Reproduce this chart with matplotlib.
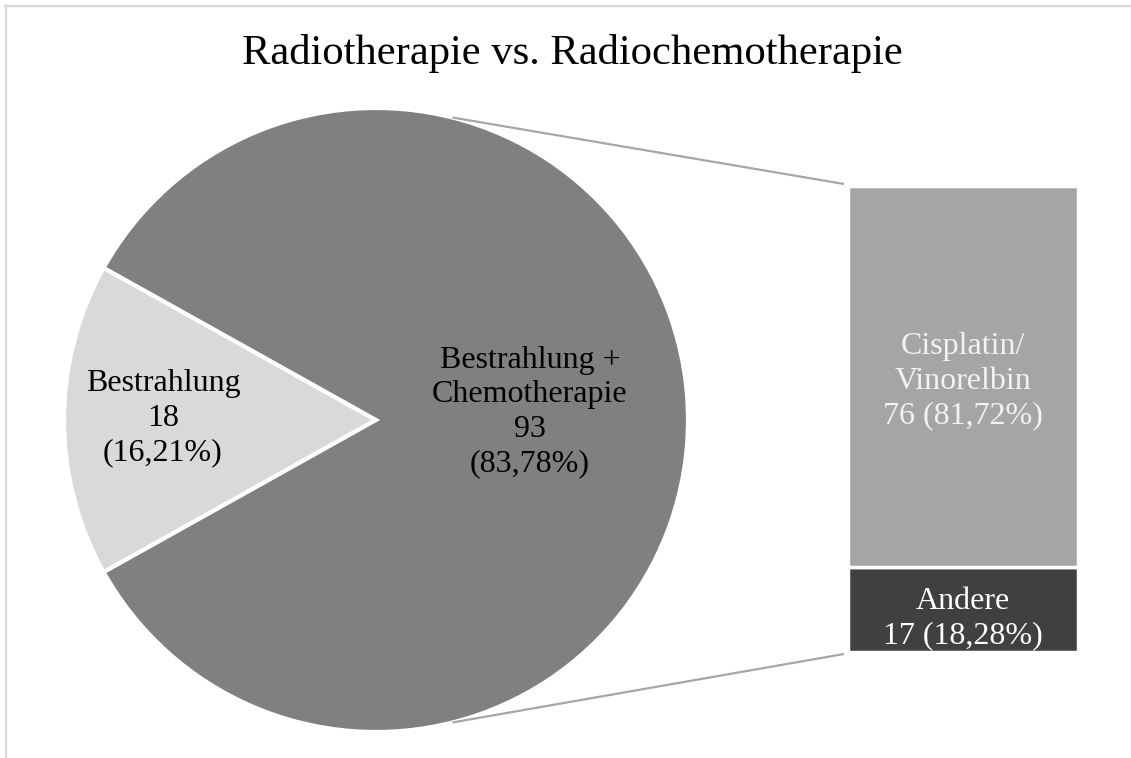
import numpy as np
import matplotlib
matplotlib.use("Agg")
import matplotlib.pyplot as plt
from matplotlib.lines import Line2D

plt.rcParams["font.family"] = ["Liberation Serif", "DejaVu Serif"]

# data
pie_labels = ["Bestrahlung\n18\n(16,21%)", "Bestrahlung +\nChemotherapie\n93\n(83,78%)"]
pie_values = [18, 93]
pie_colors = ["#d9d9d9", "#808080"]

bar_labels = ["Andere\n17 (18,28%)", "Cisplatin/\nVinorelbin\n76 (81,72%)"]
bar_values = [17, 76]
bar_colors = ["#404040", "#a5a5a5"]
bar_text_colors = ["#ffffff", "#f2f2f2"]

title = "Radiotherapie vs. Radiochemotherapie"

W, H = 1131, 758
fig = plt.figure(figsize=(W / 100, H / 100), dpi=100)
ax = fig.add_axes([0, 0, 1, 1])

# pie (pixel coordinates, y measured from bottom)
cx, cy, r = 376, H - 420, 312
start = 180 - 360 * pie_values[0] / sum(pie_values) / 2
ax.pie(pie_values, colors=pie_colors, startangle=start, center=(cx, cy),
       radius=r, counterclock=True, frame=True,
       wedgeprops=dict(edgecolor="white", linewidth=3))
ax.set_xlim(0, W)
ax.set_ylim(0, H)
ax.set_aspect("equal")
ax.axis("off")

ax.text(cx - 213, cy + 2, pie_labels[0], ha="center", va="center",
        fontsize=23, color="black", linespacing=1.25)
ax.text(cx + 154, cy + 8, pie_labels[1], ha="center", va="center",
        fontsize=23, color="black", linespacing=1.25)

# stacked bar
bx, bw = 963, 230
b_bottom = H - 652
scale = 466 / sum(bar_values)
bottom = b_bottom
for lab, v, c, tc in zip(bar_labels, bar_values, bar_colors, bar_text_colors):
    h = v * scale
    off = -5 if v == 76 else -9
    ax.bar(bx, h, width=bw, bottom=bottom, color=c, edgecolor="white",
           linewidth=2.5, align="center")
    ax.text(bx, bottom + h / 2 + off, lab, ha="center", va="center",
            fontsize=23, color=tc, linespacing=1.25)
    bottom += h
b_top = bottom

# connector lines
ang = np.deg2rad(75.8)
line_col = "#a6a6a6"
ax.plot([cx + r * np.cos(ang), bx - bw / 2 - 4], [cy + r * np.sin(ang), b_top + 2],
        color=line_col, lw=1.6, solid_capstyle="butt")
ax.plot([cx + r * np.cos(ang), bx - bw / 2 - 4], [cy - r * np.sin(ang), b_bottom - 2],
        color=line_col, lw=1.6, solid_capstyle="butt")

# title
ax.text(572, H - 64, title, ha="center", va="baseline", fontsize=30.7, color="black")

# chart frame
fig.add_artist(Line2D([5 / W, 1], [1 - 5.5 / H, 1 - 5.5 / H], color="#d9d9d9",
                      lw=1.6, transform=fig.transFigure))
fig.add_artist(Line2D([5.5 / W, 5.5 / W], [0, 1 - 5 / H], color="#d9d9d9",
                      lw=1.6, transform=fig.transFigure))

fig.savefig("out.png", dpi=100)
